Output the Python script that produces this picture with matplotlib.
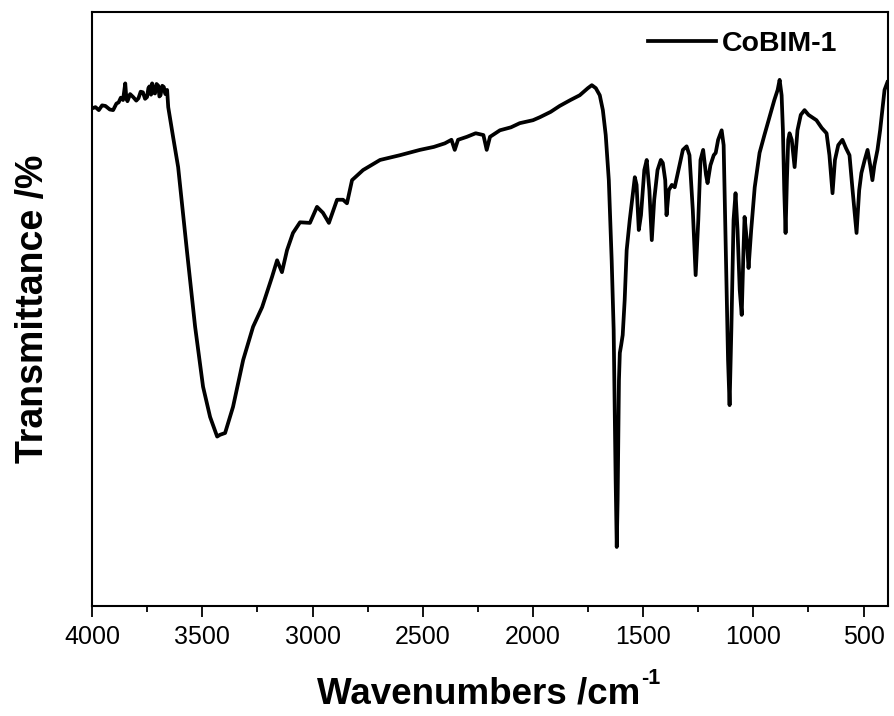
# FTIR spectrum of CoBIM-1
import numpy as np
import matplotlib.pyplot as plt
from matplotlib.ticker import MultipleLocator

plt.rcParams['font.family'] = ['Liberation Sans', 'DejaVu Sans']

# wavenumber (cm-1) and transmittance (%)
wavenumber = [4000, 3985, 3970, 3955, 3940, 3920, 3905, 3890, 3880, 3870, 3860, 3850,
              3845, 3840, 3828, 3814, 3800, 3790, 3780, 3770, 3760, 3751, 3745, 3740,
              3733, 3728, 3720, 3715, 3708, 3700, 3695, 3690, 3682, 3675, 3668, 3660,
              3655, 3633, 3610, 3569, 3533,
              3497, 3465, 3433, 3420, 3397, 3361, 3315, 3270, 3229, 3184, 3161, 3139,
              3116, 3089, 3057, 3012, 2980, 2953, 2926, 2889, 2862, 2844, 2821, 2771,
              2694, 2604, 2513, 2450, 2400, 2370, 2355, 2340, 2300, 2260, 2225, 2210,
              2195, 2150, 2100, 2060, 2000, 1969, 1920, 1879, 1830, 1788, 1751, 1733,
              1715, 1697, 1683, 1670, 1656, 1643, 1634, 1625, 1620, 1616, 1610, 1606,
              1600, 1593, 1584, 1575, 1561, 1545, 1538, 1530, 1520, 1510, 1495, 1484,
              1472, 1461, 1450, 1435, 1420, 1411, 1400, 1394, 1384, 1370, 1357, 1340,
              1320, 1303, 1290, 1275, 1262, 1250, 1240, 1228, 1215, 1208, 1195, 1180,
              1171, 1160, 1144, 1135, 1125, 1115, 1108, 1100, 1090, 1081, 1072, 1062,
              1053, 1045, 1040, 1030, 1022, 1010, 994, 972, 950, 927, 905, 890,
              881, 872, 866, 860, 854, 848, 842, 836, 826, 813, 800, 785,
              768, 750, 730, 714, 690, 668, 655, 641, 630, 615, 596, 580,
              564, 550, 532, 520, 510, 495, 482, 470, 460, 451, 437, 425,
              415, 405, 392]
transmittance = [83.8, 84.0, 83.5, 84.3, 84.2, 83.6, 83.5, 84.6, 84.8, 85.6, 85.2, 88.0,
                 85.5, 85.0, 86.2, 85.7, 85.1, 85.5, 86.6, 86.5, 85.4, 85.7, 87.2, 87.5,
                 86.1, 88.0, 86.4, 86.3, 87.9, 87.6, 85.8, 86.0, 87.6, 87.4, 86.2, 86.9,
                 84.0, 79.0, 73.9, 59.4, 47.0,
                 36.9, 31.8, 28.5, 28.8, 29.1, 33.5, 41.4, 47.0, 50.3, 55.4, 58.2, 56.2,
                 59.9, 62.8, 64.6, 64.5, 67.2, 66.2, 64.5, 68.4, 68.4, 67.8, 71.7, 73.4,
                 75.1, 75.9, 76.8, 77.3, 77.9, 78.5, 76.8, 78.5, 79.0, 79.6, 79.3, 76.8,
                 79.0, 80.1, 80.6, 81.3, 81.8, 82.3, 83.2, 84.2, 85.2, 86.0, 87.2, 87.7,
                 87.2, 86.0, 83.5, 79.3, 71.7, 58.2, 46.5, 21.2, 9.9, 17.8, 38.0, 42.6,
                 43.9, 45.6, 51.5, 59.9, 65.0, 70.0, 72.2, 70.9, 63.3, 65.8, 73.4, 75.1,
                 70.0, 61.6, 68.4, 73.4, 75.1, 74.6, 71.7, 65.8, 70.0, 70.9, 70.5, 73.4,
                 76.8, 77.4, 75.9, 66.7, 55.7, 65.0, 75.1, 76.8, 72.6, 71.2, 74.2, 75.9,
                 76.3, 78.5, 80.1, 77.6, 59.9, 41.4, 33.8, 46.5, 65.0, 69.5, 63.3, 53.2,
                 49.0, 59.9, 65.5, 61.6, 56.9, 63.3, 70.5, 76.3, 79.3, 82.3, 85.2, 86.9,
                 88.6, 86.0, 80.1, 70.0, 62.8, 71.7, 78.5, 79.6, 78.5, 73.9, 80.1, 82.7,
                 83.5, 82.7, 82.2, 81.8, 80.5, 79.6, 75.9, 69.5, 75.1, 77.6, 78.5, 77.1,
                 75.9, 70.0, 62.8, 70.0, 72.9, 75.1, 76.8, 74.2, 71.7, 74.2, 76.8, 80.1,
                 83.5, 86.9, 88.2]

fig = plt.figure(figsize=(8.95, 7.16), dpi=100)
ax = fig.add_axes([0.103, 0.154, 0.889, 0.829])

ax.plot(wavenumber, transmittance, color="black", linewidth=2.7, label="CoBIM-1")

ax.set_xlim(4000, 390)
ax.set_ylim(0, 100)
ax.xaxis.set_major_locator(MultipleLocator(500))
ax.xaxis.set_minor_locator(MultipleLocator(250))
ax.set_yticks([])
ax.tick_params(axis="x", which="major", direction="out", length=8, width=1.3, labelsize=18, pad=6)
ax.tick_params(axis="x", which="minor", direction="out", length=4, width=1.3)
for s in ax.spines.values():
    s.set_linewidth(1.5)

ax.set_xlabel("Wavenumbers /cm", fontsize=26.5, fontweight="bold")
ax.xaxis.set_label_coords(0.486, -0.119)
ax.set_ylabel("Transmittance /%", fontsize=27, fontweight="bold", labelpad=30)

ax.legend(loc="upper right", bbox_to_anchor=(0.958, 0.997), frameon=False,
          handlelength=2.4, handletextpad=0.2, borderaxespad=0.2,
          prop={"weight": "bold", "size": 20.5})

# superscript -1 placed right after the x label
fig.canvas.draw()
bb = ax.xaxis.label.get_window_extent()
fig.text(bb.x1 + 1, bb.y1 + 8, "-1", fontsize=15.5, fontweight="bold",
         ha="left", va="top", transform=None)

plt.savefig("out.png", dpi=100)
